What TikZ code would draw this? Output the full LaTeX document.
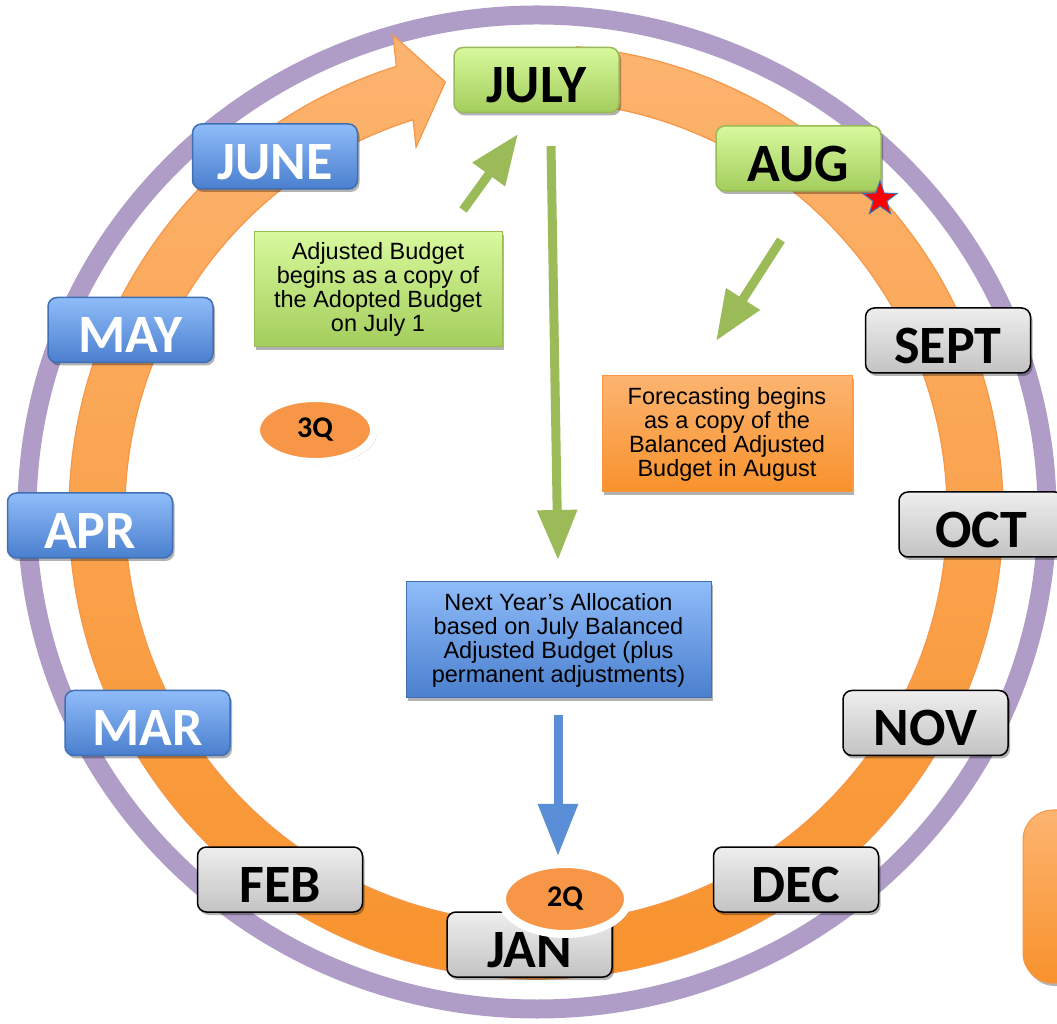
\documentclass[tikz,border=0pt]{standalone}
\usepackage{fontspec}
\setmainfont{Liberation Sans}
\newfontfamily\calib{Carlito}
\usetikzlibrary{shapes.geometric,shadows,arrows.meta}
\definecolor{purp}{HTML}{B09DC7}
\definecolor{otop}{HTML}{FCB470}
\definecolor{obot}{HTML}{F8922C}
\definecolor{obrd}{HTML}{F79646}
\definecolor{gtop}{HTML}{D8F99D}
\definecolor{gbot}{HTML}{A3CD5C}
\definecolor{gbrd}{HTML}{98BB55}
\definecolor{btop}{HTML}{8FBCF9}
\definecolor{bbot}{HTML}{4A7FCE}
\definecolor{bbrd}{HTML}{3F70B4}
\definecolor{ytop}{HTML}{EEEEEE}
\definecolor{ybot}{HTML}{C3C3C3}
\definecolor{garr}{HTML}{9BBB59}
\definecolor{barr}{HTML}{5A8ED6}
\definecolor{qfill}{HTML}{F79646}
\begin{document}
\begin{tikzpicture}[x=1pt,y=1pt,
  shad/.style={drop shadow={shadow xshift=2pt,shadow yshift=-3pt,opacity=0.3,fill=black}},
  month/.style={shad,rounded corners=9pt,minimum width=165pt,minimum height=65pt,inner sep=0pt,
    text height=46pt,text depth=0pt,
    line width=1.5pt,font=\calib\bfseries\fontsize{54}{54}\selectfont},
  greenm/.style={month,top color=gtop,bottom color=gbot,draw=gbrd},
  bluem/.style={month,top color=btop,bottom color=bbot,draw=bbrd,text=white},
  graym/.style={month,top color=ytop,bottom color=ybot,draw=black},
  note/.style={shad,align=center,inner sep=0pt,line width=1pt,font=\fontsize{23.5}{24}\selectfont},
  qtr/.style={ellipse,fill=qfill,draw=white,inner sep=0pt,
    drop shadow={shadow xshift=1pt,shadow yshift=-2pt,shadow scale=1.04,opacity=0.22,fill=black},
    font=\calib\bfseries\fontsize{30}{30}\selectfont},
  garrow/.style={draw=garr,line width=9pt,-{Triangle[width=38pt,length=50pt]}},
  barrow/.style={draw=barr,line width=9pt,-{Triangle[width=38pt,length=52pt]}}
]
\useasboundingbox (0,0) rectangle (1057,1023);
\fill[white] (0,0) rectangle (1057,1023);

% outer purple ring
\draw[purp,line width=19pt] (537,511) ellipse [x radius=510pt,y radius=497pt];

% orange circular arrow
\path[shift={(536,511)},top color=otop,bottom color=obot,draw=obrd,line width=1.2pt]
  (85:467) arc[start angle=85,end angle=-252.6,radius=467pt]
  -- (-253.3:498) -- (-258.1:439.5) -- (-251.8:384) -- (-252.6:411)
  arc[start angle=-252.6,end angle=85,radius=411pt] -- cycle;

% bottom-right orange box (cut by the edge)
\node[shad,rounded corners=30pt,top color=otop,bottom color=obot,draw=obrd,line width=1pt,
  minimum width=120pt,minimum height=173pt,inner sep=0pt] (side) at (1083,126.5) {};

% arrows
\coordinate (a1s) at (463,813);
\coordinate (a1e) at (518,889);
\coordinate (a2s) at (551,877);
\coordinate (a2e) at (558,463);
\coordinate (a3s) at (781,783);
\coordinate (a3e) at (716,682);
\coordinate (a4s) at (558,308);
\coordinate (a4e) at (558,167);
\draw[garrow] (a1s) -- (a1e);
\draw[garrow] (a2s) -- (a2e);
\draw[garrow] (a3s) -- (a3e);
\draw[barrow] (a4s) -- (a4e);

% notes
\node[note,top color=gtop,bottom color=gbot,draw=gbrd,minimum width=248pt,minimum height=115pt]
  (adj) at (378,733.5) {Adjusted Budget\\begins as a copy of\\the Adopted Budget\\on July 1};
\node[note,top color=otop,bottom color=obot,draw=obrd,minimum width=250pt,minimum height=116pt]
  (fc) at (727,589) {Forecasting begins\\as a copy of the\\Balanced Adjusted\\Budget in August};
\node[note,top color=btop,bottom color=bbot,draw=bbrd,minimum width=305pt,minimum height=116pt]
  (ny) at (558.5,383) {Next Year’s Allocation\\based on July Balanced\\Adjusted Budget (plus\\permanent adjustments)};

% months
\node[greenm] (jul) at (536.5,943) {JULY};
\node[greenm] (aug) at (798.5,864.5) {AUG};
\node[graym] (sep) at (948,682.5) {SEPT};
\node[graym] (oct) at (981.5,498.5) {OCT};
\node[graym] (nov) at (925.5,300) {NOV};
\node[graym] (dec) at (796,143.5) {DEC};
\node[graym] (jan) at (529.5,78.5) {JAN};
\node[graym] (feb) at (280,143.5) {FEB};
\node[bluem] (mar) at (147.5,300) {MAR};
\node[bluem] (apr) at (90,497.5) {APR};
\node[bluem] (may) at (130.5,693) {MAY};
\node[bluem] (jun) at (275,866.5) {JUNE};

% quarters
\node[qtr,line width=7.5pt,minimum width=117.5pt,minimum height=63.5pt] (q3) at (315,593) {3Q};
\node[qtr,line width=8pt,minimum width=126pt,minimum height=70pt] (q2) at (565,124) {2Q};

% star
\node[star,star points=5,star point ratio=2.5,fill=red,draw=bbrd,line width=1pt,
  minimum size=36pt,inner sep=0pt] (star) at (880,824) {};
\end{tikzpicture}
\end{document}
